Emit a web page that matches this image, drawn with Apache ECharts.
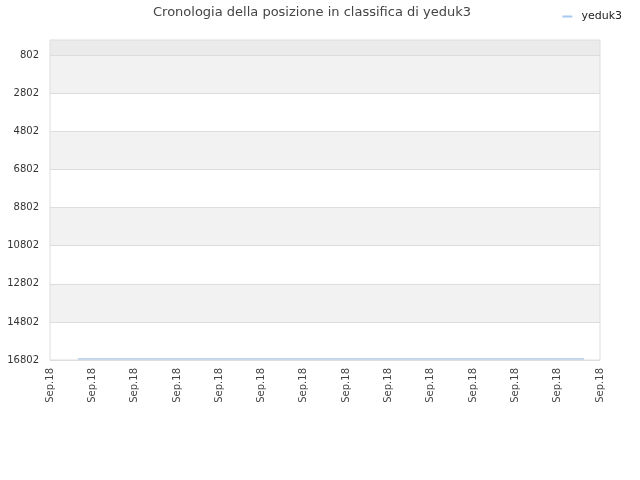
<!DOCTYPE html>
<html><head><meta charset="utf-8">
<script src="https://cdn.jsdelivr.net/npm/echarts@6/dist/echarts.min.js"></script>
<style>html,body{margin:0;padding:0;background:#fff}#c{width:640px;height:480px}</style>
</head><body><div id="c"></div>
<script>
const titleText = 'Cronologia della posizione in classifica di yeduk3';
const seriesName = 'yeduk3';
const xTickValues = [0,1,2,3,4,5,6,7,8,9,10,11,12,13];
const xTickLabel = 'Sep.18';
const yTickValues = [802,2802,4802,6802,8802,10802,12802,14802,16802];
const xPositions = [0.66, 12.62];
const rankValues = [16750, 16750];
const bandRanges = [[0,802,'#ebebeb'],[802,2802,'#f2f2f2'],[4802,6802,'#f2f2f2'],[8802,10802,'#f2f2f2'],[12802,14802,'#f2f2f2']];

const chart = echarts.init(document.getElementById('c'), null, {renderer:'canvas'});
chart.setOption({
  animation:false,
  backgroundColor:'#fff',
  textStyle:{fontFamily:'DejaVu Sans'},
  title:{text:titleText,left:148,top:1,textStyle:{fontSize:13,fontWeight:'normal',color:'#444',fontFamily:'DejaVu Sans'}},
  legend:{right:13,top:6,itemWidth:10,itemHeight:2,itemGap:10,icon:'rect',textStyle:{fontSize:11,color:'#222',padding:[0,0,0,4]},data:[seriesName]},
  grid:{left:50,right:40,top:40,bottom:120,show:true,z:10,borderColor:'#dddddd',borderWidth:1,backgroundColor:'transparent'},
  xAxis:{type:'value',min:0,max:13,interval:1,
    axisLine:{show:false},axisTick:{show:false},splitLine:{show:false},
    axisLabel:{rotate:90,fontSize:10,color:'#444',margin:8,formatter:()=>xTickLabel,showMinLabel:true,showMaxLabel:true}},
  yAxis:{type:'value',inverse:true,min:0,max:16802,z:5,
    axisLine:{show:false},axisTick:{show:false,customValues:yTickValues},
    splitLine:{show:true,lineStyle:{color:'#dddddd',width:1}},
    axisLabel:{fontSize:10,color:'#333',margin:11,customValues:yTickValues,formatter:v=>String(v)}},
  series:[{name:seriesName,type:'line',data:xPositions.map((x,i)=>[x,rankValues[i]]),
    showSymbol:false,lineStyle:{color:'#a8c9ee',width:1.5},itemStyle:{color:'#a8c9ee'},z:3,
    markArea:{silent:true,itemStyle:{opacity:1},data:bandRanges.map(b=>[{yAxis:b[0],itemStyle:{color:b[2]}},{yAxis:b[1]}])}
  }]
});
</script></body></html>
